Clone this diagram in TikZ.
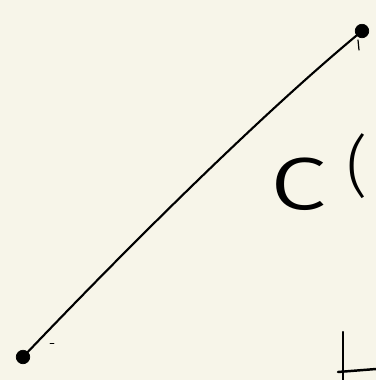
\documentclass[tikz,border=0pt]{standalone}
\usepackage{fontspec}
\setmainfont{Fira Sans Light}
\definecolor{paper}{HTML}{F7F5E9}
\begin{document}
\begin{tikzpicture}[
    x=0.02cm, y=-0.02cm,
    pt/.style={circle, fill=black, draw=black, inner sep=0pt, minimum size=0.27cm},
    stroke/.style={draw=black, line width=1.2pt, line cap=round},
    ink/.style={draw=black, line width=1.4pt, line cap=round},
    hand/.style={font=\fontsize{50}{56}\selectfont, inner sep=0pt, anchor=base west},
  ]
  % paper
  \fill[paper] (0,0) rectangle (376,380);
  \useasboundingbox (0,0) rectangle (376,380);
  % end points of the path
  \node[pt] (start) at (23,357) {};
  \node[pt] (end)   at (362,31) {};
  % the path itself
  \draw[stroke] (start.center) .. controls (120,255) and (260,115) .. (end.center);
  % small marks beside the dots
  \draw[stroke, line width=0.5pt] (50,343) -- (54,343);
  \draw[stroke, line width=0.7pt] (358,40) -- (359,50);
  % label, cut off at the edge
  \node[hand] (lbl) at (268,209)
    {\scalebox{1.45}[1.1]{c}\kern0.36cm\raisebox{0.4cm}{\fontsize{38}{42}\selectfont(}};
  % axis corner, bottom right
  \draw[ink] (343,332) -- (343,380);
  \draw[ink] (338,372) -- (376,369);
\end{tikzpicture}
\end{document}
